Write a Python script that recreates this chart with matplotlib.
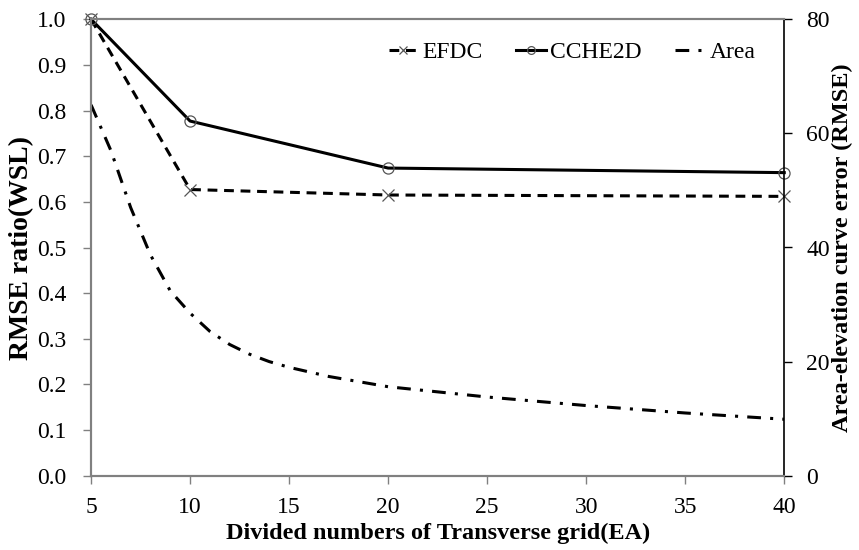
import matplotlib
matplotlib.use("Agg")
from matplotlib import pyplot as plt

# Grid divisions and RMSE ratio per model
grid = [5, 10, 20, 40]
efdc = [1.0, 0.627, 0.615, 0.612]
cche2d = [1.0, 0.777, 0.674, 0.664]

# Area-elevation curve error (right axis)
area_x = [5, 6, 7, 8, 9, 10, 11, 12, 13, 14, 15, 16, 17, 18, 20, 25, 30, 35, 40]
area_y = [65.0, 57.0, 47.0, 38.7, 32.4, 28.5, 25.3, 23.0, 21.3, 20.0, 19.0,
          18.2, 17.4, 16.8, 15.6, 13.8, 12.3, 11.0, 9.9]

plt.rcParams['font.family'] = ['Liberation Serif', 'DejaVu Serif']

fig = plt.figure(figsize=(8.59, 5.5), dpi=100)
ax = fig.add_axes([0.106, 0.135, 0.807, 0.830])
ax2 = ax.twinx()

gray = '#808080'

# Lines
l1, = ax.plot(grid, efdc, color='black', lw=2.2, linestyle=(0, (3.2, 2.2)),
              marker='x', markersize=8, markeredgecolor='#555555',
              markeredgewidth=0.9, label='EFDC', clip_on=False, zorder=3)
l2, = ax.plot(grid, cche2d, color='black', lw=2.2, linestyle='-',
              marker='o', markersize=8, markerfacecolor='none',
              markeredgecolor='#555555', markeredgewidth=0.9,
              label='CCHE2D', clip_on=False, zorder=3)
l3, = ax2.plot(area_x, area_y, color='black', lw=2.2,
               linestyle=(0, (4.5, 3.0, 1.0, 3.0)), label='Area')

# Axes limits and ticks
ax.set_xlim(5, 40)
ax.set_ylim(0, 1.0)
ax2.set_ylim(0, 80)
ax.set_xticks([5, 10, 15, 20, 25, 30, 35, 40])
ax.set_yticks([i / 10 for i in range(11)])
ax.set_yticklabels([f"{i / 10:.1f}" for i in range(11)])
ax2.set_yticks([0, 20, 40, 60, 80])

for a in (ax, ax2):
    a.tick_params(labelsize=17, length=6, width=1, direction='out')
ax.tick_params(axis='y', pad=12)
ax.tick_params(axis='x', pad=9)
ax2.tick_params(axis='y', pad=10)
ax.tick_params(colors=gray, labelcolor='black')
ax2.tick_params(colors='black', labelcolor='black')

# Spines
for name in ['top', 'left', 'bottom']:
    ax.spines[name].set_color(gray)
    ax.spines[name].set_linewidth(1.5)
    ax2.spines[name].set_color(gray)
    ax2.spines[name].set_linewidth(1.5)
ax2.spines['right'].set_color('black')
ax2.spines['right'].set_linewidth(1.2)
ax.spines['right'].set_visible(False)

# Labels
ax.set_xlabel('Divided numbers of Transverse grid(EA)', fontsize=17.5,
              fontweight='bold', labelpad=4)
ax.set_ylabel('RMSE ratio(WSL)', fontsize=20, fontweight='bold', labelpad=2)
ax2.set_ylabel('Area-elevation curve error (RMSE)', fontsize=17.5,
               fontweight='bold', labelpad=1)

# Legend
ax.legend(handles=[l1, l2, l3], loc='center right', ncol=3, frameon=False,
          fontsize=17, handlelength=1.25, handletextpad=0.2,
          columnspacing=1.4, borderaxespad=0, borderpad=0,
          bbox_to_anchor=(0.958, 0.928), markerscale=0.7)

plt.savefig('out.png', dpi=100)
plt.close()
